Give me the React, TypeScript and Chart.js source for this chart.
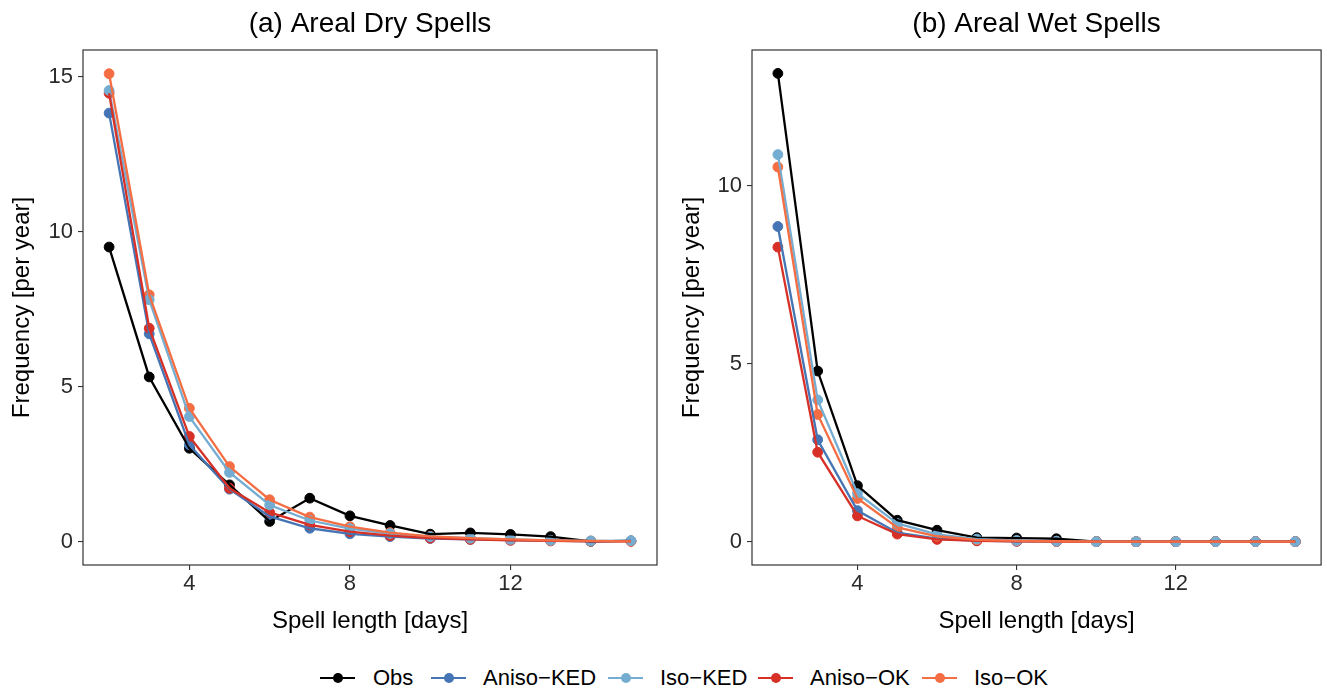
import React, { useEffect, useRef } from "react";
import { Chart, registerables } from "chart.js";

Chart.register(...registerables);
Chart.defaults.font.family = "'Liberation Sans', Arial, Helvetica, sans-serif";

// ---------- data ----------
const spellLength = [2, 3, 4, 5, 6, 7, 8, 9, 10, 11, 12, 13, 14, 15];
const xTicks = [4, 8, 12];
const dryYTicks = [0, 5, 10, 15];
const wetYTicks = [0, 5, 10];

const seriesNames = ["Obs", "Aniso−KED", "Iso−KED", "Aniso−OK", "Iso−OK"];
const seriesColors = ["#000000", "#4575B4", "#74ADD1", "#D73027", "#F46D43"];

// (a) Areal Dry Spells
const dryObs = [9.5, 5.31, 3.01, 1.83, 0.65, 1.4, 0.83, 0.52, 0.24, 0.28, 0.23, 0.16, 0.01, 0.02];
const dryAnisoKED = [13.82, 6.7, 3.12, 1.69, 0.81, 0.43, 0.25, 0.16, 0.1, 0.07, 0.05, 0.03, 0.01, 0.02];
const dryIsoKED = [14.55, 7.8, 4.03, 2.23, 1.18, 0.68, 0.42, 0.26, 0.16, 0.11, 0.07, 0.04, 0.02, 0.03];
const dryAnisoOK = [14.46, 6.88, 3.39, 1.72, 0.94, 0.54, 0.32, 0.19, 0.11, 0.07, 0.04, 0.02, 0.01, 0.01];
const dryIsoOK = [15.09, 7.96, 4.3, 2.42, 1.35, 0.79, 0.48, 0.29, 0.17, 0.11, 0.07, 0.04, 0.02, 0.01];

// (b) Areal Wet Spells
const wetObs = [13.15, 4.79, 1.57, 0.6, 0.32, 0.11, 0.1, 0.08, 0, 0, 0, 0, 0, 0];
const wetAnisoKED = [8.85, 2.86, 0.87, 0.25, 0.08, 0.03, 0.01, 0.01, 0, 0, 0, 0, 0, 0];
const wetIsoKED = [10.87, 3.98, 1.35, 0.51, 0.2, 0.07, 0.03, 0.01, 0, 0, 0, 0, 0, 0];
const wetAnisoOK = [8.27, 2.51, 0.72, 0.21, 0.06, 0.02, 0.01, 0, 0, 0, 0, 0, 0, 0];
const wetIsoOK = [10.52, 3.57, 1.21, 0.4, 0.15, 0.05, 0.02, 0.01, 0, 0, 0, 0, 0, 0];

const drySeries = [dryObs, dryAnisoKED, dryIsoKED, dryAnisoOK, dryIsoOK];
const wetSeries = [wetObs, wetAnisoKED, wetIsoKED, wetAnisoOK, wetIsoOK];

// ---------- styling / layout ----------
const AXIS_COLOR = "#333333";
const TICK_COLOR = "#2b2b2b";
const pointDrawOrder = [0, 1, 3, 4, 2]; // bottom -> top
const lineDrawOrder = [0, 1, 2, 3, 4]; // bottom -> top

const panelBorder = {
  id: "panelBorder",
  afterDraw(chart: any) {
    const { ctx, chartArea: a } = chart;
    ctx.save();
    ctx.strokeStyle = AXIS_COLOR;
    ctx.lineWidth = 1.2;
    ctx.strokeRect(a.left, a.top, a.right - a.left, a.bottom - a.top);
    ctx.restore();
  },
};

function buildDatasets(series: number[][]) {
  const toPts = (vals: number[]) => spellLength.map((x, i) => ({ x, y: vals[i] }));
  const seq: any[] = [];
  pointDrawOrder.forEach((s) => {
    seq.push({
      label: seriesNames[s] + " points",
      data: toPts(series[s]),
      showLine: false,
      borderColor: seriesColors[s],
      backgroundColor: seriesColors[s],
      pointRadius: 4.9,
      pointBorderWidth: 1,
      pointBorderColor: seriesColors[s],
      pointBackgroundColor: seriesColors[s],
    });
  });
  lineDrawOrder.forEach((s) => {
    seq.push({
      label: seriesNames[s],
      data: toPts(series[s]),
      showLine: true,
      borderColor: seriesColors[s],
      backgroundColor: seriesColors[s],
      borderWidth: 2.3,
      pointRadius: 0,
      tension: 0,
    });
  });
  const n = seq.length;
  return seq.map((d, i) => ({ ...d, order: n - i }));
}

function makeConfig(title: string, series: number[][], yTicks: number[], yMin: number, yMax: number, yWidth: number, padRight: number) {
  return {
    type: "scatter" as const,
    data: { datasets: buildDatasets(series) },
    plugins: [panelBorder],
    options: {
      responsive: false,
      animation: false as const,
      events: [] as any[],
      layout: { padding: { left: 0, right: padRight, top: 0, bottom: 0 } },
      plugins: {
        legend: { display: false },
        tooltip: { enabled: false },
        title: {
          display: true,
          text: title,
          color: "#000",
          fullSize: false,
          font: { size: 28, weight: "normal" as const },
          padding: { top: 7, bottom: 9.4 },
        },
      },
      scales: {
        x: {
          type: "linear" as const,
          min: 1.35,
          max: 15.65,
          afterBuildTicks: (s: any) => {
            s.ticks = xTicks.map((v) => ({ value: v }));
          },
          afterFit: (s: any) => {
            s.height = 80;
          },
          ticks: {
            color: TICK_COLOR,
            font: { size: 22 },
            padding: 1,
            maxRotation: 0,
            autoSkip: false,
            callback: (v: any) => String(v),
          },
          grid: {
            display: true,
            drawOnChartArea: false,
            drawTicks: true,
            tickLength: 5,
            color: AXIS_COLOR,
            lineWidth: 1.1,
          },
          border: { display: false },
          title: {
            display: true,
            text: "Spell length [days]",
            color: "#000",
            font: { size: 24 },
            padding: { top: 0, bottom: 9.6 },
          },
        },
        y: {
          type: "linear" as const,
          min: yMin,
          max: yMax,
          afterBuildTicks: (s: any) => {
            s.ticks = yTicks.map((v) => ({ value: v }));
          },
          afterFit: (s: any) => {
            s.width = yWidth;
          },
          ticks: {
            color: TICK_COLOR,
            font: { size: 22 },
            padding: 5,
            autoSkip: false,
            callback: (v: any) => String(v),
          },
          grid: {
            display: true,
            drawOnChartArea: false,
            drawTicks: true,
            tickLength: 5,
            color: AXIS_COLOR,
            lineWidth: 1.1,
          },
          border: { display: false },
          title: {
            display: true,
            text: "Frequency [per year]",
            color: "#000",
            font: { size: 24 },
            padding: { top: 8, bottom: 0 },
          },
        },
      },
    },
  };
}

function Panel(props: { cfg: any; left: number; width: number; height: number }) {
  const ref = useRef<HTMLCanvasElement | null>(null);
  useEffect(() => {
    if (!ref.current) return;
    const chart = new Chart(ref.current, props.cfg);
    return () => chart.destroy();
  }, []);
  return (
    <canvas
      ref={ref}
      width={props.width}
      height={props.height}
      style={{ position: "absolute", left: props.left, top: 0, width: props.width, height: props.height }}
    />
  );
}

const legendKeyLeft = [320, 431, 608, 758, 922];
const legendTextLeft = [373, 483, 660, 810, 974];

export default function App() {
  const dryCfg = makeConfig("(a) Areal Dry Spells", drySeries, dryYTicks, -0.755, 15.855, 83, 6);
  const wetCfg = makeConfig("(b) Areal Wet Spells", wetSeries, wetYTicks, -0.6575, 13.8075, 82, 1);
  return (
    <div style={{ position: "fixed", left: 0, top: 0, width: 1327, height: 689, background: "#fff", overflow: "hidden" }}>
      <Panel cfg={dryCfg} left={0} width={663} height={645} />
      <Panel cfg={wetCfg} left={670} width={657} height={645} />
      {seriesNames.map((name, i) => (
        <React.Fragment key={name}>
          <div style={{ position: "absolute", left: legendKeyLeft[i], top: 668, width: 35, height: 20 }}>
            <div style={{ position: "absolute", left: 0, top: 8.75, width: 35, height: 2.5, background: seriesColors[i] }} />
            <div
              style={{
                position: "absolute",
                left: 12.5,
                top: 5,
                width: 10,
                height: 10,
                borderRadius: "50%",
                background: seriesColors[i],
              }}
            />
          </div>
          <div
            style={{
              position: "absolute",
              left: legendTextLeft[i],
              top: 664,
              height: 28,
              lineHeight: "28px",
              fontSize: 22,
              fontFamily: "'Liberation Sans', Arial, Helvetica, sans-serif",
              color: "#000",
              whiteSpace: "nowrap",
            }}
          >
            {name}
          </div>
        </React.Fragment>
      ))}
    </div>
  );
}
